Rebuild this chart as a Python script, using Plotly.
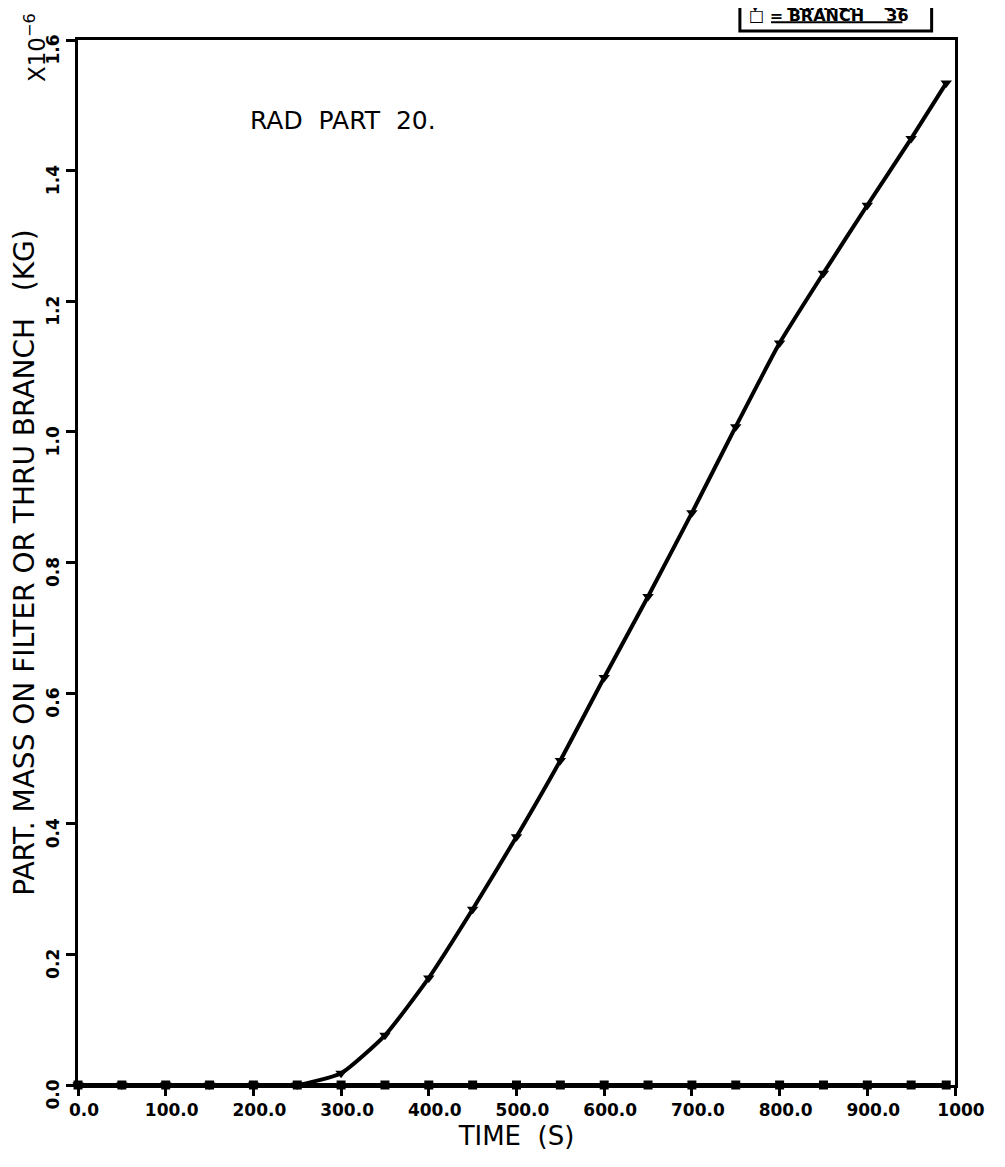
import plotly.graph_objects as go

# ---- data (mass in units of 1e-6 kg) ----
time_s = [0, 50, 100, 150, 200, 250, 300, 350, 400, 450, 500,
          550, 600, 650, 700, 750, 800, 850, 900, 950, 990]
branch35 = [0.0, 0.0, 0.0, 0.0, 0.0, 0.0, 0.018, 0.076, 0.164, 0.269, 0.380,
            0.497, 0.624, 0.748, 0.876, 1.008, 1.136, 1.243, 1.347, 1.449, 1.534]
branch36 = [0.0, 0.0, 0.0, 0.0, 0.0, 0.0, 0.0, 0.0, 0.0, 0.0, 0.0,
            0.0, 0.0, 0.0, 0.0, 0.0, 0.0, 0.0, 0.0, 0.0, 0.0]

x_ticks = [0, 100, 200, 300, 400, 500, 600, 700, 800, 900, 1000]
x_tick_labels = ["0.0", "100.0", "200.0", "300.0", "400.0", "500.0",
                 "600.0", "700.0", "800.0", "900.0", "1000"]
y_ticks = [0.0, 0.2, 0.4, 0.6, 0.8, 1.0, 1.2, 1.4, 1.6]
y_tick_labels = ["0.0", "0.2", "0.4", "0.6", "0.8", "1.0", "1.2", "1.4", "1.6"]

# ---- geometry (page pixels; the page body has an 8px margin on every side) ----
OFF = 8
PAGE_W, PAGE_H = 1005, 1167
W, H = PAGE_W - 2 * OFF, PAGE_H - 2 * OFF
L, R, T, B = 78, 979, 40, 1095


def px(x):
    return (x - L) / (R - L)


def py(y):
    return (B - y) / (B - T)


FONT = "DejaVu Sans"

fig = go.Figure()
fig.add_trace(go.Scatter(
    x=time_s, y=branch36, mode="lines+markers", name="BRANCH 36",
    line=dict(color="black", width=4),
    marker=dict(symbol="square", size=9, color="black"),
    cliponaxis=False, showlegend=False))
fig.add_trace(go.Scatter(
    x=time_s, y=branch35, mode="lines+markers", name="BRANCH 35",
    line=dict(color="black", width=4, shape="spline", smoothing=0.5),
    marker=dict(symbol="triangle-down", size=10, color="black"),
    cliponaxis=False, showlegend=False))

fig.update_layout(
    width=W, height=H,
    margin=dict(l=L - OFF, r=W - (R - OFF), t=T - OFF, b=H - (B - OFF), pad=0),
    paper_bgcolor="white", plot_bgcolor="white",
    font=dict(family=FONT, color="black"),
    xaxis=dict(
        range=[0, 1000], tickvals=x_ticks, ticktext=x_tick_labels,
        ticks="outside", ticklen=8, tickwidth=3, tickcolor="black",
        showline=True, linewidth=3, linecolor="black", mirror=True,
        showgrid=False, zeroline=False, ticklabelshift=6,
        ticklabeloverflow="allow",
        tickfont=dict(family=FONT, size=17, weight="bold"),
        title=dict(text="TIME  (S)", font=dict(family=FONT, size=26), standoff=8),
    ),
    yaxis=dict(
        range=[0, 1.6], tickvals=y_ticks, ticktext=y_tick_labels,
        ticks="outside", ticklen=9, tickwidth=3, tickcolor="black",
        showline=True, linewidth=3, linecolor="black", mirror=True,
        showgrid=False, zeroline=False, tickangle=-90, ticklabelshift=12,
        ticklabeloverflow="allow",
        tickfont=dict(family=FONT, size=17, weight="bold"),
        title=dict(text="PART. MASS ON FILTER OR THRU BRANCH   (KG)",
                   font=dict(family=FONT, size=28), standoff=4),
    ),
)

# exponent label
fig.add_annotation(xref="paper", yref="paper", x=px(34), y=py(48),
                   text="X10<sup>−6</sup>", textangle=-90, showarrow=False,
                   font=dict(family=FONT, size=23), xanchor="center", yanchor="middle")

# in-plot label
fig.add_annotation(xref="paper", yref="paper", x=px(253), y=py(121),
                   text="RAD  PART  20.", showarrow=False,
                   font=dict(family=FONT, size=25), xanchor="left", yanchor="middle")

# legend box (partially cut by the top edge)
fig.add_shape(type="rect", xref="paper", yref="paper",
              x0=px(758), x1=px(955), y0=py(31), y1=py(-30),
              line=dict(color="black", width=3), fillcolor="white", layer="above")
fig.add_shape(type="line", xref="paper", yref="paper",
              x0=px(790), x1=px(925), y0=py(22), y1=py(22),
              line=dict(color="black", width=2), layer="above")
fig.add_annotation(xref="paper", yref="paper", x=px(765), y=py(4),
                   text="▼ = BRANCH    35", showarrow=False,
                   font=dict(family=FONT, size=16, weight="bold"),
                   xanchor="left", yanchor="middle")
fig.add_annotation(xref="paper", yref="paper", x=px(765), y=py(15),
                   text="□ = BRANCH    36", showarrow=False,
                   font=dict(family=FONT, size=16, weight="bold"),
                   xanchor="left", yanchor="middle")

fig.write_html("out.html")
